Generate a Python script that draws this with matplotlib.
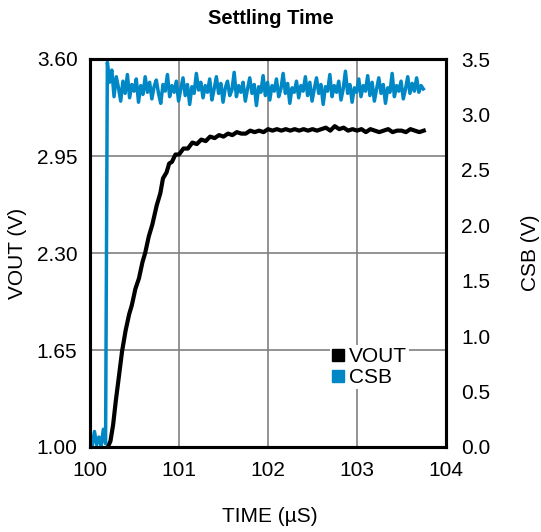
import matplotlib
matplotlib.use("Agg")
import matplotlib.pyplot as plt
from matplotlib.lines import Line2D
import numpy as np

plt.rcParams['font.family'] = ['Liberation Sans', 'DejaVu Sans']

# VOUT trace (left axis)
vout_t = [100.20, 100.23, 100.26, 100.29, 100.32, 100.36, 100.40, 100.44, 100.47, 100.51,
          100.55, 100.59, 100.62, 100.66, 100.70, 100.75, 100.79, 100.82, 100.86, 100.89,
          100.92, 100.96, 101.00, 101.05, 101.10, 101.15, 101.20, 101.25, 101.30, 101.35,
          101.40, 101.45, 101.50, 101.55, 101.60, 101.65, 101.70, 101.75, 101.80, 101.85,
          101.90, 101.95, 102.00, 102.05, 102.10, 102.15, 102.20, 102.25, 102.30, 102.35,
          102.40, 102.45, 102.50, 102.55, 102.60, 102.65, 102.70, 102.75, 102.80, 102.85,
          102.90, 102.95, 103.00, 103.05, 103.10, 103.15, 103.20, 103.25, 103.30, 103.35,
          103.40, 103.45, 103.50, 103.55, 103.60, 103.65, 103.70, 103.75]
vout_v = [1.00, 1.04, 1.15, 1.31, 1.45, 1.64, 1.78, 1.89, 1.95, 2.06,
          2.13, 2.24, 2.30, 2.41, 2.49, 2.62, 2.70, 2.80, 2.84, 2.90,
          2.91, 2.96, 2.96, 3.00, 3.00, 3.04, 3.03, 3.06, 3.05, 3.08,
          3.07, 3.09, 3.08, 3.10, 3.09, 3.11, 3.10, 3.10, 3.12, 3.11,
          3.12, 3.11, 3.13, 3.12, 3.13, 3.12, 3.13, 3.12, 3.13, 3.12,
          3.13, 3.12, 3.13, 3.12, 3.13, 3.14, 3.12, 3.15, 3.13, 3.14,
          3.12, 3.13, 3.12, 3.13, 3.11, 3.13, 3.12, 3.11, 3.12, 3.13,
          3.11, 3.12, 3.12, 3.11, 3.13, 3.12, 3.11, 3.12]

# CSB trace (right axis): low before the edge, then the noisy high level
csb_low = [0.06, 0.01, 0.14, 0.02, 0.09, 0.01, 0.16, 0.03]
csb_high = [3.47, 3.29, 3.40, 3.16, 3.34, 3.24, 3.12, 3.30, 3.19, 3.36, 3.15, 3.27, 3.21, 3.32, 3.11, 3.26, 3.18, 3.34, 3.20, 3.29,
            3.14, 3.25, 3.31, 3.19, 3.10, 3.27, 3.21, 3.36, 3.16, 3.26, 3.20, 3.30, 3.12, 3.23, 3.33, 3.17, 3.27, 3.09, 3.25, 3.19,
            3.37, 3.22, 3.29, 3.15, 3.26, 3.20, 3.32, 3.13, 3.23, 3.34, 3.19, 3.28, 3.11, 3.24, 3.30, 3.17, 3.22, 3.38, 3.16, 3.26,
            3.20, 3.29, 3.12, 3.23, 3.33, 3.19, 3.27, 3.08, 3.25, 3.20, 3.35, 3.17, 3.29, 3.13, 3.26, 3.21, 3.32, 3.16, 3.23, 3.37,
            3.19, 3.28, 3.10, 3.24, 3.20, 3.30, 3.15, 3.26, 3.21, 3.34, 3.17, 3.29, 3.12, 3.23, 3.33, 3.19, 3.27, 3.09, 3.25, 3.21,
            3.36, 3.16, 3.26, 3.20, 3.30, 3.13, 3.23, 3.39, 3.19, 3.27, 3.11, 3.24, 3.20, 3.32, 3.16, 3.26, 3.21, 3.35, 3.17, 3.29,
            3.12, 3.23, 3.33, 3.19, 3.27, 3.10, 3.24, 3.20, 3.37, 3.16, 3.26, 3.21, 3.30, 3.14, 3.23, 3.34, 3.19, 3.28, 3.21, 3.33,
            3.20, 3.26, 3.23]
csb_dt = 0.025  # scope sample period, us
csb_t_low = 100.0 + csb_dt * np.arange(len(csb_low))
csb_t_high = 100.195 + csb_dt * np.arange(len(csb_high))

x_ticks = [100, 101, 102, 103, 104]
left_ticks = [1.00, 1.65, 2.30, 2.95, 3.60]
right_ticks = [0.0, 0.5, 1.0, 1.5, 2.0, 2.5, 3.0, 3.5]

blue = '#0088c6'

fig = plt.figure(figsize=(5.41, 5.32), dpi=100)
ax = fig.add_axes([90/541, 1-447/532, 356/541, 388/532])
ax2 = ax.twinx()

ax.plot(vout_t, vout_v, color='black', lw=3.0, solid_joinstyle='round')
csb_t = np.concatenate([csb_t_low, csb_t_high])
csb_v = csb_low + csb_high
ax2.plot(csb_t, csb_v, color=blue, lw=2.5)

ax.set_xlim(100, 104)
ax.set_ylim(1.0, 3.6)
ax2.set_ylim(0, 3.5)
ax.set_xticks(x_ticks)
ax.set_yticks(left_ticks)
ax.set_yticklabels([f"{v:.2f}" for v in left_ticks])
ax2.set_yticks(right_ticks)
ax2.set_yticklabels([f"{v:.1f}" for v in right_ticks])

ax.grid(True, color='#808080', lw=1.2)
ax.set_axisbelow(True)
ax.tick_params(length=0, labelsize=15, pad=9)
ax.tick_params(axis='x', pad=10)
ax2.tick_params(length=0, labelsize=15, pad=11)
for a in (ax, ax2):
    for s in a.spines.values():
        s.set_linewidth(2.2)

fig.text(0.5*(90+446)/541 + 0.005, 1-18/532, "Settling Time", ha='center', va='center',
         fontsize=14.5, fontweight='bold')
fig.text(270/541, 1-517/532, "TIME (\u00b5S)", ha='center', va='center', fontsize=15)
fig.text(18/541, 1-253/532, "VOUT (V)", ha='center', va='center', rotation=90, fontsize=15)
fig.text(530/541, 1-253/532, "CSB (V)", ha='center', va='center', rotation=90, fontsize=15)

handles = [Line2D([], [], ls='none', marker='s', ms=9, color='black'),
           Line2D([], [], ls='none', marker='s', ms=9, color=blue)]
leg = ax2.legend(handles, ["VOUT", "CSB"], loc='upper left',
                 bbox_to_anchor=(330/541, 1-345/532), bbox_transform=fig.transFigure,
                 frameon=True, facecolor='white', edgecolor='none', framealpha=1,
                 fontsize=15, handlelength=0.6, handletextpad=0.2,
                 labelspacing=0.1, borderpad=0.1, borderaxespad=0)

fig.savefig("out.png", dpi=100)
